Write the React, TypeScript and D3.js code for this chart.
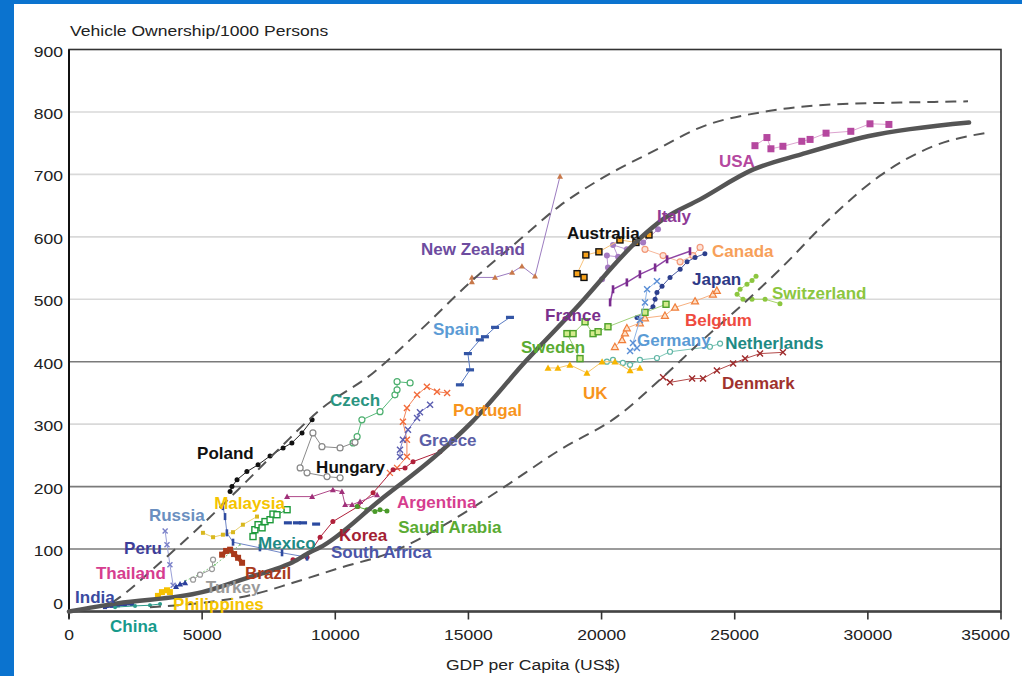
import * as d3 from "d3";

type Pt = [number, number];

// axes
const xTicks = [0, 5000, 10000, 15000, 20000, 25000, 30000, 35000];
const yTicks = [0, 100, 200, 300, 400, 500, 600, 700, 800, 900];
const darkGridValues = [100, 200, 400];

// envelope curves (GDP, vehicles / 1000)
const mainCurve: Pt[] = [[0, 0], [1800, 13], [5000, 31], [6700, 54], [7700, 67], [8400, 79], [9050, 95], [9400, 102], [11700, 179], [13900, 254], [15100, 302], [17200, 403], [19000, 484], [21400, 596], [22300, 628], [23700, 660], [25700, 708], [27500, 732], [30000, 761], [33800, 783]];
const upperBound: Pt[] = [[1610, 14], [1915, 23], [3417, 78], [4920, 136], [6420, 198], [7924, 262], [9426, 323], [11420, 382], [13180, 450], [15060, 527], [16940, 596], [18440, 650], [19940, 692], [22080, 740], [23700, 775], [26210, 801], [28690, 812], [31210, 815], [33760, 817]];
const lowerBound: Pt[] = [[3040, 7], [5030, 14], [6800, 26], [8410, 46], [10180, 70], [12050, 94], [14310, 144], [16190, 195], [18440, 259], [20580, 312], [22190, 371], [23700, 431], [25200, 488], [26700, 548], [28470, 625], [30460, 698], [32450, 745], [34510, 767]];

// country series
const usa: Pt[] = [[25760, 746], [26210, 759], [26360, 741], [26810, 745], [27520, 753], [27830, 756], [28430, 766], [29360, 769], [30080, 781], [30790, 780]];
const australia: Pt[] = [[19340, 535], [19080, 541], [19410, 571], [19900, 576], [20690, 595], [21290, 591], [21780, 603]];
const italy: Pt[] = [[20020, 532], [20240, 551], [20200, 570], [20620, 568], [20430, 587], [20950, 580], [21560, 591], [22120, 612]];
const france: Pt[] = [[20320, 495], [20430, 516], [20950, 527], [21440, 540], [22010, 551], [22460, 564], [23320, 577]];
const canada: Pt[] = [[21630, 580], [22310, 570], [22950, 560], [23430, 570], [23700, 583]];
const japan: Pt[] = [[21330, 471], [21930, 488], [22010, 500], [22080, 511], [22270, 521], [22570, 535], [22950, 548], [23210, 560], [23510, 567], [23880, 573]];
const switzerland: Pt[] = [[26700, 493], [26140, 500], [25650, 500], [25310, 500], [25090, 508], [25200, 516], [25460, 524], [25650, 530], [25800, 537]];
const belgium: Pt[] = [[20500, 424], [20770, 435], [20880, 446], [20950, 454], [21440, 462], [21630, 470], [22380, 474], [22760, 487], [23510, 497], [24180, 508], [24330, 514]];
const sweden: Pt[] = [[19190, 405], [18700, 445], [18930, 445], [19380, 464], [19680, 445], [19870, 448], [20240, 456], [21630, 479], [22420, 492]];
const germany: Pt[] = [[21070, 417], [21330, 422], [21180, 430], [21440, 467], [21630, 495], [21710, 516], [22080, 529]];
const netherlands: Pt[] = [[20200, 400], [20430, 403], [20800, 398], [21070, 395], [21440, 403], [22080, 406], [22570, 416], [24070, 424], [24450, 429]];
const uk: Pt[] = [[17990, 390], [18360, 390], [18810, 395], [19450, 382], [20020, 400], [20500, 400], [21070, 386], [21440, 390]];
const denmark: Pt[] = [[22310, 375], [22570, 367], [23400, 373], [23810, 373], [24330, 386], [24940, 397], [25390, 405], [25950, 413], [26810, 415]];
const newZealand: Pt[] = [[15130, 528], [15130, 535], [16000, 535], [16640, 543], [17010, 553], [17500, 537], [18440, 697]];
const spain: Pt[] = [[14680, 363], [15060, 387], [14980, 413], [15430, 435], [15620, 440], [16000, 455], [16560, 471]];
const czech: Pt[] = [[10670, 270], [10820, 280], [11000, 307], [11680, 320], [12240, 347], [12320, 355], [12320, 368], [12810, 366]];
const hungary: Pt[] = [[10180, 214], [9690, 216], [8940, 222], [8680, 230], [9160, 286], [9500, 264], [10180, 262], [10740, 271]];
const poland: Pt[] = [[6050, 192], [6120, 200], [6310, 211], [6680, 224], [7100, 235], [7550, 249], [8040, 262], [8370, 270], [8750, 286], [9130, 307]];
const portugal: Pt[] = [[12050, 222], [12320, 230], [12690, 248], [12690, 275], [12540, 304], [12690, 326], [13070, 347], [13440, 360], [13820, 352], [14200, 350]];
const greece: Pt[] = [[12430, 248], [12430, 259], [12540, 275], [12730, 291], [13070, 310], [13180, 319], [13560, 331]];
const korea: Pt[] = [[8410, 83], [8940, 87], [9430, 119], [9910, 144], [10850, 168], [11420, 190], [12170, 227], [12620, 230], [12920, 240], [13930, 256]];
const argentina: Pt[] = [[8190, 184], [9130, 184], [9910, 195], [10250, 192], [10370, 171], [10630, 171], [10930, 176], [11570, 187]];
const saudiArabia: Pt[] = [[10820, 168], [11190, 163], [11490, 160], [11680, 163], [11940, 161]];
const southAfrica: Pt[] = [[8220, 142], [8560, 142], [8790, 142], [9280, 140]];
const mexico: Pt[] = [[6910, 120], [6980, 131], [7100, 139], [7250, 134], [7360, 144], [7550, 147], [7660, 156], [7810, 155], [8190, 163]];
const malaysia: Pt[] = [[5030, 126], [5410, 119], [5780, 123], [6160, 127], [6530, 139], [7060, 152]];
const russia: Pt[] = [[5780, 168], [5860, 152], [5930, 126], [6160, 111], [7170, 102], [8000, 94], [8940, 87]];
const peru: Pt[] = [[4020, 40], [4170, 44], [4360, 46]];
const peruTrend: Pt[] = [[3910, 42], [3790, 75], [3680, 107], [3610, 129]];
const thailand: Pt[] = [[4360, 49], [4920, 60], [5480, 75], [6050, 94], [6420, 107]];
const turkey: Pt[] = [[4660, 51], [4920, 59], [5370, 68], [5410, 83]];
const brazil: Pt[] = [[5750, 91], [5900, 97], [6050, 99], [6200, 92], [6350, 86], [6500, 78]];
const philippines: Pt[] = [[3340, 25], [3490, 31], [3680, 34], [3790, 31]];
const india: Pt[] = [[1350, 7], [1610, 9], [1840, 10], [2100, 12], [2370, 12]];
const china: Pt[] = [[1730, 7], [2480, 9], [3040, 10], [3420, 12]];

// label text and anchor (left edge, vertical middle) in data units
const labelNames = ["USA", "Australia", "Italy", "Canada", "Japan", "Switzerland", "France", "New Zealand", "Spain", "Belgium", "Sweden", "Germany", "Netherlands", "UK", "Denmark", "Czech", "Portugal", "Greece", "Poland", "Hungary", "Argentina", "Malaysia", "Russia", "Saudi Arabia", "Korea", "Mexico", "Peru", "South Africa", "Thailand", "Brazil", "Turkey", "India", "Philippines", "China"];
const labelAnchors: Pt[] = [[24410, 722], [18700, 607], [22080, 633], [24150, 578], [23400, 532], [26400, 511], [17880, 475], [13220, 580], [13670, 453], [23130, 467], [16970, 424], [21330, 435], [24640, 430], [19300, 350], [24520, 366], [9800, 339], [14420, 323], [13140, 275], [4810, 254], [9280, 232], [12320, 176], [5450, 174], [3000, 155], [12360, 136], [10140, 123], [7100, 110], [2070, 102], [9840, 95], [1010, 62], [6610, 62], [5140, 39], [230, 23], [3910, 12], [1540, -23]];
const labelColors = ["#b5489f", "#111111", "#8e3a96", "#f7a05a", "#2e3a87", "#8cc63f", "#7b2f8c", "#6d4c9f", "#5b9bd5", "#ef4b3f", "#5aab32", "#5b9bd5", "#1e8a84", "#f7941d", "#a0322d", "#2a9480", "#f7941d", "#5b5ea6", "#111111", "#111111", "#d63d8f", "#f5c400", "#6a8fc0", "#5aab32", "#a31f34", "#1e8a84", "#3d3d99", "#4b55a8", "#d63d8f", "#a93a1c", "#9a9a9a", "#3a4aa0", "#f5c400", "#179a8c"];

type Kind = "square" | "squareOpen" | "circle" | "circleOpen" | "triangle" | "triangleOpen" | "x" | "hbar" | "vbar";
interface Series { data: Pt[]; line: string; lw: number; color: string; fill?: string; kind: Kind; size: number; dash?: string }

const series: Series[] = [
  { data: usa, line: "#dca3cf", lw: 1, color: "#b5489f", kind: "square", size: 7 },
  { data: italy, line: "#b995d0", lw: 1, color: "#a57ac2", kind: "circle", size: 6 },
  { data: canada, line: "#f6b79a", lw: 1, color: "#f29a7a", fill: "#fde3d8", kind: "circleOpen", size: 6 },
  { data: france, line: "#8e44a4", lw: 1.5, color: "#7a2b8f", kind: "vbar", size: 8 },
  { data: australia, line: "#f7c27a", lw: 1, color: "#111111", fill: "#f7a21b", kind: "squareOpen", size: 6 },
  { data: japan, line: "#4a5aa0", lw: 1, color: "#2c3e8c", kind: "circle", size: 5 },
  { data: switzerland, line: "#a8d46a", lw: 1, color: "#8cc63f", kind: "circle", size: 5 },
  { data: belgium, line: "#f7b080", lw: 1, color: "#f07e3a", fill: "#fde0c8", kind: "triangleOpen", size: 7 },
  { data: sweden, line: "#9fd07a", lw: 1, color: "#4da02a", fill: "#d4ec8c", kind: "squareOpen", size: 6 },
  { data: germany, line: "#8fb4e6", lw: 1, color: "#5b8fd6", kind: "x", size: 6 },
  { data: netherlands, line: "#7cc6b5", lw: 1, color: "#5fb5a5", fill: "#ffffff", kind: "circleOpen", size: 5 },
  { data: uk, line: "#f7c56a", lw: 1, color: "#f7b500", kind: "triangle", size: 7 },
  { data: denmark, line: "#b34a4a", lw: 1, color: "#9e2a2b", kind: "x", size: 6 },
  { data: newZealand, line: "#9c7cc0", lw: 1, color: "#c8784a", kind: "triangle", size: 6 },
  { data: spain, line: "#5a7cc4", lw: 1, color: "#3355a5", kind: "hbar", size: 8 },
  { data: czech, line: "#55b878", lw: 1, color: "#4caf6e", fill: "#ffffff", kind: "circleOpen", size: 6 },
  { data: hungary, line: "#8a8a8a", lw: 1, color: "#888888", fill: "#ffffff", kind: "circleOpen", size: 6 },
  { data: poland, line: "#222222", lw: 1, color: "#111111", kind: "circle", size: 5 },
  { data: portugal, line: "#f4845a", lw: 1, color: "#f26b3a", kind: "x", size: 6 },
  { data: greece, line: "#7d7dc8", lw: 1, color: "#5b5eb0", kind: "x", size: 6 },
  { data: korea, line: "#b0203a", lw: 1, color: "#b0203a", kind: "circle", size: 5 },
  { data: argentina, line: "#b04a8a", lw: 1, color: "#a0307a", kind: "triangle", size: 6 },
  { data: saudiArabia, line: "#5aab32", lw: 1, color: "#4a9a2a", kind: "circle", size: 5 },
  { data: southAfrica, line: "#2b4aa0", lw: 0, color: "#2b4aa0", kind: "hbar", size: 8 },
  { data: mexico, line: "#3aa050", lw: 1, color: "#1e9a3a", fill: "#ffffff", kind: "squareOpen", size: 6 },
  { data: malaysia, line: "#e8d070", lw: 1, color: "#d9b81e", kind: "square", size: 4 },
  { data: russia, line: "#6f86c6", lw: 1, color: "#2e4aa0", kind: "vbar", size: 7 },
  { data: peruTrend, line: "#9aa0d8", lw: 1, color: "#7a80c8", kind: "x", size: 5 },
  { data: thailand, line: "#7cc37a", lw: 1, color: "#7cc37a", kind: "circle", size: 2, dash: "2,2" },
  { data: peru, line: "#2b3f9c", lw: 1, color: "#2b3f9c", kind: "triangle", size: 6 },
  { data: turkey, line: "#999999", lw: 1, color: "#999999", fill: "#ffffff", kind: "circleOpen", size: 5 },
  { data: brazil, line: "#a93a1c", lw: 4, color: "#a93a1c", kind: "square", size: 6 },
  { data: philippines, line: "#f5c000", lw: 3, color: "#f5c000", kind: "square", size: 6 },
  { data: india, line: "#2e3e9a", lw: 3, color: "#2e3e9a", kind: "square", size: 4 },
  { data: china, line: "#2a9a8a", lw: 1, color: "#2a9a8a", kind: "circle", size: 4 },
];

const W = 1022;
const H = 676;
const x = d3.scaleLinear().domain([0, 35000]).range([69, 1001]);
const y = d3.scaleLinear().domain([0, 900]).range([611.5, 49.5]);

const straight = d3.line<Pt>().x((d) => x(d[0])).y((d) => y(d[1]));
const smooth = d3.line<Pt>().x((d) => x(d[0])).y((d) => y(d[1])).curve(d3.curveMonotoneX);

const axisFont = "'Liberation Sans', Arial, sans-serif";
const stretch = 1.17;

function Marker({ kind, cx, cy, s, color, fill }: { kind: Kind; cx: number; cy: number; s: number; color: string; fill?: string }) {
  const h = s / 2;
  switch (kind) {
    case "square":
      return <rect x={cx - h} y={cy - h} width={s} height={s} fill={color} />;
    case "squareOpen":
      return <rect x={cx - h} y={cy - h} width={s} height={s} fill={fill ?? "#fff"} stroke={color} strokeWidth={1.4} />;
    case "circle":
      return <circle cx={cx} cy={cy} r={h} fill={color} />;
    case "circleOpen":
      return <circle cx={cx} cy={cy} r={h} fill={fill ?? "#fff"} stroke={color} strokeWidth={1.2} />;
    case "triangle":
      return <path d={`M${cx},${cy - h}L${cx + h},${cy + h * 0.8}L${cx - h},${cy + h * 0.8}Z`} fill={color} />;
    case "triangleOpen":
      return <path d={`M${cx},${cy - h}L${cx + h},${cy + h * 0.8}L${cx - h},${cy + h * 0.8}Z`} fill={fill ?? "#fff"} stroke={color} strokeWidth={1.2} />;
    case "x":
      return <path d={`M${cx - h},${cy - h}L${cx + h},${cy + h}M${cx - h},${cy + h}L${cx + h},${cy - h}`} stroke={color} strokeWidth={1.4} />;
    case "hbar":
      return <rect x={cx - h} y={cy - 1.6} width={s} height={3.2} fill={color} />;
    case "vbar":
      return <rect x={cx - 1.3} y={cy - h} width={2.6} height={s} fill={color} />;
  }
}

function AxisText({ tx, ty, anchor, size, children }: { tx: number; ty: number; anchor: string; size: number; children: React.ReactNode }) {
  return (
    <text transform={`translate(${tx},${ty}) scale(${stretch},1)`} textAnchor={anchor} fontFamily={axisFont} fontSize={size} fill="#222">
      {children}
    </text>
  );
}

export default function App() {
  const lastTick = xTicks[xTicks.length - 1];
  return (
    <div style={{ position: "absolute", left: 0, top: 0 }}>
      <svg width={W} height={H} style={{ display: "block", background: "#fff" }}>
        {/* blue frame */}
        <rect x={0} y={0} width={W} height={4} fill="#0b73cf" />
        <rect x={0} y={0} width={14} height={H} fill="#0b73cf" />

        {/* grid */}
        {yTicks.filter((v) => v > 0 && v < 900).map((v) => (
          <line key={v} x1={x(0)} x2={x(35000)} y1={y(v)} y2={y(v)}
            stroke={darkGridValues.includes(v) ? "#7a7a7a" : "#d9d9d9"} strokeWidth={1.6} />
        ))}

        {/* plot frame */}
        <rect x={x(0)} y={y(900)} width={x(35000) - x(0)} height={y(0) - y(900)} fill="none" stroke="#333" strokeWidth={1.6} />
        <line x1={x(0)} x2={x(35000)} y1={y(0)} y2={y(0)} stroke="#444" strokeWidth={2.6} />
        <line x1={x(0)} x2={x(0)} y1={y(900)} y2={y(0) + 7} stroke="#111" strokeWidth={2} />
        {xTicks.map((t) => (
          <line key={t} x1={x(t)} x2={x(t)} y1={y(0)} y2={y(0) + 8} stroke="#333" strokeWidth={1.6} />
        ))}

        {/* tick labels */}
        {yTicks.map((v) => (
          <AxisText key={v} tx={63} ty={y(v) + (v === 0 ? -3 : 7)} anchor="end" size={15}>{v}</AxisText>
        ))}
        {xTicks.map((t) => (
          t === lastTick
            ? <AxisText key={t} tx={x(t) + 9} ty={640} anchor="end" size={15}>{t}</AxisText>
            : <AxisText key={t} tx={x(t)} ty={640} anchor="middle" size={15}>{t}</AxisText>
        ))}
        <AxisText tx={70} ty={36} anchor="start" size={15}>Vehicle Ownership/1000 Persons</AxisText>
        <AxisText tx={533} ty={670} anchor="middle" size={15}>GDP per Capita (US$)</AxisText>

        {/* country series */}
        {series.map((s, i) => (
          <g key={i}>
            {s.lw > 0 && (
              <path d={straight(s.data) ?? ""} fill="none" stroke={s.line} strokeWidth={s.lw} strokeDasharray={s.dash} />
            )}
            {s.data.map((d, j) => (
              <Marker key={j} kind={s.kind} cx={x(d[0])} cy={y(d[1])} s={s.size} color={s.color} fill={s.fill} />
            ))}
          </g>
        ))}

        {/* envelope */}
        <path d={smooth(upperBound) ?? ""} fill="none" stroke="#555" strokeWidth={2} strokeDasharray="11,7" />
        <path d={smooth(lowerBound) ?? ""} fill="none" stroke="#555" strokeWidth={2} strokeDasharray="11,7" />
        <path d={smooth(mainCurve) ?? ""} fill="none" stroke="#555" strokeWidth={4.5} strokeLinecap="round" />

        {/* country labels */}
        {labelNames.map((name, i) => (
          <text key={name} x={x(labelAnchors[i][0])} y={y(labelAnchors[i][1])} dy="0.36em"
            fontFamily="'Liberation Sans', Arial, sans-serif" fontWeight="bold" fontSize={17} fill={labelColors[i]}>
            {name}
          </text>
        ))}
      </svg>
    </div>
  );
}
